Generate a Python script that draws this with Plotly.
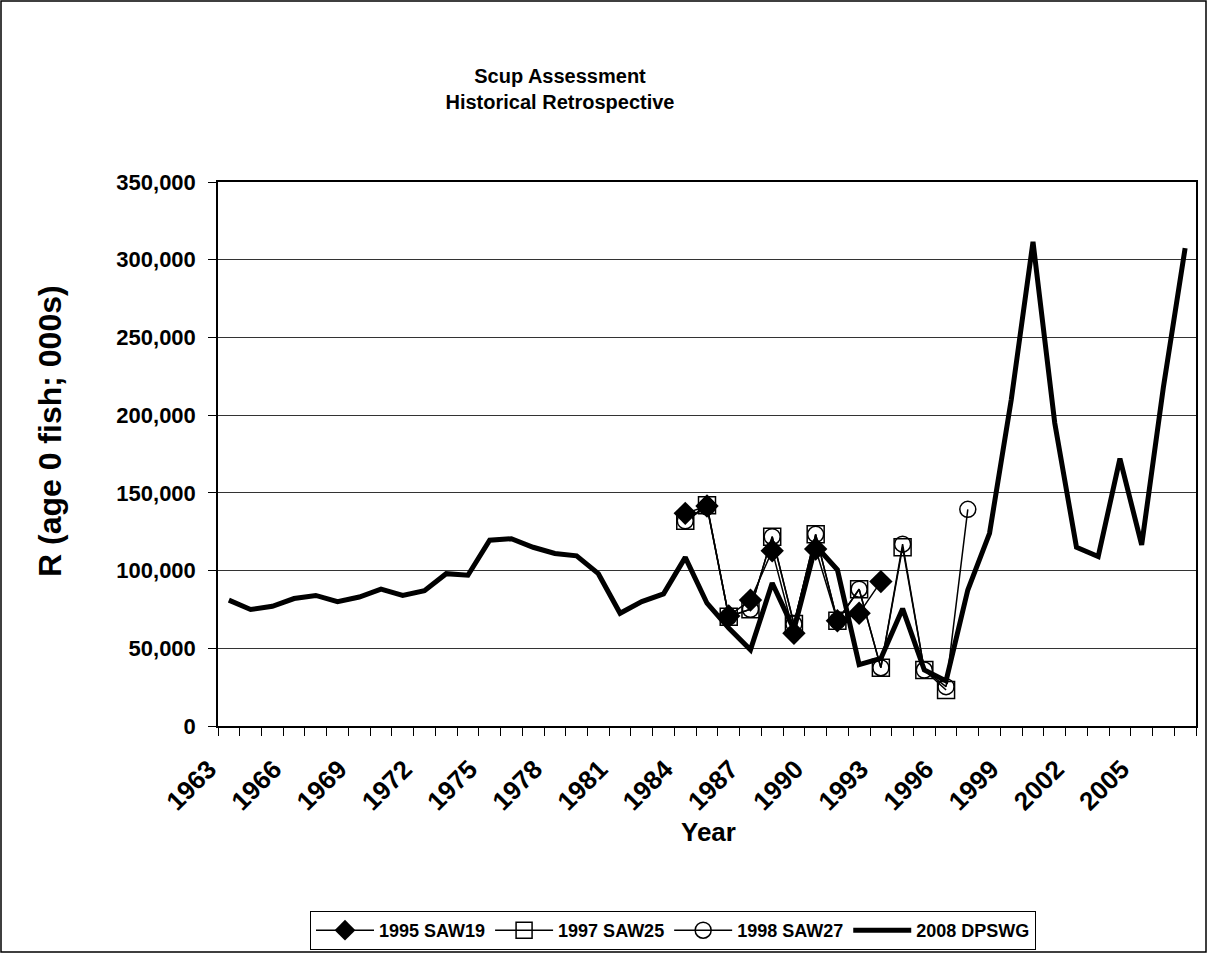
import plotly.graph_objects as go

years_all = list(range(1963, 2008))
dpswg_2008 = [81000, 75000, 77000, 82000, 84000, 80000, 83000, 88000, 84000, 87000,
              98000, 97000, 119500, 120500, 115000, 111000, 109500, 98000, 72500, 80000,
              85000, 108500, 79000, 63000, 49000, 92000, 62000, 116000, 100500, 39500,
              43500, 75500, 36000, 29000, 87500, 124000, 210000, 311500, 195000, 115000,
              109000, 172000, 116500, 218000, 307500]

years_saw19 = list(range(1984, 1994))
saw19_1995 = [136800, 141500, 70800, 81000, 112800, 59600, 113900, 67700, 72500, 92900]

years_saw25 = list(range(1984, 1997))
saw25_1997 = [132000, 142000, 70300, 75100, 121800, 65600, 123300, 67700, 88000, 37500,
              115000, 36000, 23200]

years_saw27 = list(range(1984, 1998))
saw27_1998 = [132000, 141000, 70300, 75100, 121800, 65600, 123300, 67700, 88000, 37500,
              117000, 36000, 25300, 139400]

tick_years = list(range(1963, 2007, 3))
y_ticks = [0, 50000, 100000, 150000, 200000, 250000, 300000, 350000]

FONT = "Liberation Sans, Arial, sans-serif"

fig = go.Figure()
fig.add_trace(go.Scatter(x=years_saw19, y=saw19_1995, name="1995 SAW19", mode="lines+markers",
                         line=dict(color="black", width=1.5),
                         marker=dict(symbol="diamond", size=18, color="black")))
fig.add_trace(go.Scatter(x=years_saw25, y=saw25_1997, name="1997 SAW25", mode="lines+markers",
                         line=dict(color="black", width=1.5),
                         marker=dict(symbol="square-open", size=17, color="black",
                                     line=dict(width=1.5))))
fig.add_trace(go.Scatter(x=years_saw27, y=saw27_1998, name="1998 SAW27", mode="lines+markers",
                         line=dict(color="black", width=1.5),
                         marker=dict(symbol="circle-open", size=16, color="black",
                                     line=dict(width=1.5))))
fig.add_trace(go.Scatter(x=years_all, y=dpswg_2008, name="2008 DPSWG", mode="lines",
                         line=dict(color="black", width=5)))

L, R, T, B = 218, 1196, 182, 726
W, H = 1207, 953
pw, ph = R - L, B - T

def px_x(p):
    return (p - L) / pw

def px_y(p):
    return (B - p) / ph

fig.update_layout(
    width=W, height=H,
    margin=dict(l=L, r=W - R, t=T, b=H - B, autoexpand=False),
    paper_bgcolor="white", plot_bgcolor="white",
    font=dict(family=FONT, color="black"),
    showlegend=True,
    legend=dict(orientation="h", xref="container", yref="container",
                x=310 / W, y=1 - 911 / H, xanchor="left", yanchor="top",
                bordercolor="black", borderwidth=1, bgcolor="white",
                font=dict(size=18, family=FONT, color="black", weight="bold"),
                itemwidth=58, tracegroupgap=0),
    title=dict(text="<b>Scup Assessment<br>Historical Retrospective</b>",
               x=560 / W, xanchor="center", y=1 - 83 / H, yanchor="middle",
               font=dict(size=20, family=FONT, color="black")),
    annotations=[
        dict(text="<b>R (age 0 fish; 000s)</b>", xref="paper", yref="paper",
             x=px_x(50), y=px_y(431), xanchor="center", yanchor="middle",
             textangle=-90, showarrow=False,
             font=dict(size=32, family=FONT, color="black")),
        dict(text="<b>Year</b>", xref="paper", yref="paper",
             x=px_x(708), y=px_y(832), xanchor="center", yanchor="middle",
             showarrow=False, font=dict(size=26, family=FONT, color="black")),
    ],
)

fig.update_xaxes(
    range=[1962.5, 2007.5],
    tickmode="array", tickvals=tick_years, ticktext=[str(t) for t in tick_years],
    tickangle=-45, ticks="", ticklen=0,
    ticklabelshift=-20, ticklabelstandoff=16,
    tickfont=dict(size=26, family=FONT, color="black", weight="bold"),
    minor=dict(ticks="outside", tick0=1962.5, dtick=1, ticklen=8, tickcolor="black",
               tickwidth=1, showgrid=False),
    showline=True, linecolor="black", linewidth=1.5, mirror=True,
    showgrid=False, zeroline=False, automargin=False,
)
fig.update_yaxes(
    range=[0, 350000], tickmode="array", tickvals=y_ticks,
    tickformat=",", ticks="outside", ticklen=8, tickcolor="black",
    ticklabelstandoff=8,
    tickfont=dict(size=22, family=FONT, color="black", weight="bold"),
    showline=True, linecolor="black", linewidth=1.5, mirror=True,
    showgrid=True, gridcolor="#333333", gridwidth=1, zeroline=False, automargin=False,
)

fig.add_shape(type="rect", xref="paper", yref="paper",
              x0=px_x(1), x1=px_x(W - 1), y0=px_y(H - 1), y1=px_y(1),
              line=dict(color="black", width=1.5), fillcolor="rgba(0,0,0,0)", layer="below")

fig.write_html("out.html", config={"displayModeBar": False},
               post_script="document.body.style.margin='0';document.body.style.overflow='hidden';")
